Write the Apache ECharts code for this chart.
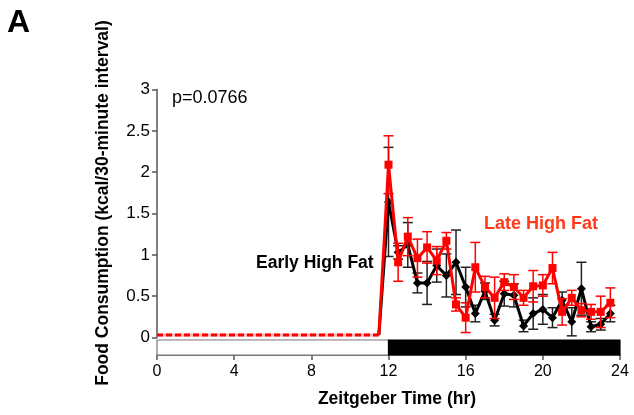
<!DOCTYPE html>
<html><head><meta charset="utf-8">
<script src="https://cdn.jsdelivr.net/npm/echarts@6/dist/echarts.min.js"></script>
<style>html,body{margin:0;padding:0;background:#fff}#c{width:634px;height:415px}</style>
</head><body><div id="c"></div>
<script>
// ---- data ----
const dayTimes = [0,0.5,1,1.5,2,2.5,3,3.5,4,4.5,5,5.5,6,6.5,7,7.5,8,8.5,9,9.5,10,10.5,11,11.5];
const dayValues = [0.03,0.03,0.03,0.03,0.03,0.03,0.03,0.03,0.03,0.03,0.03,0.03,0.03,0.03,0.03,0.03,0.03,0.03,0.03,0.03,0.03,0.03,0.03,0.03];
const nightTimes = [12,12.5,13,13.5,14,14.5,15,15.5,16,16.5,17,17.5,18,18.5,19,19.5,20,20.5,21,21.5,22,22.5,23,23.5];
const earlyMean = [1.64,1.03,1.12,0.66,0.66,0.87,0.75,0.91,0.61,0.29,0.56,0.21,0.53,0.51,0.14,0.29,0.34,0.24,0.45,0.19,0.59,0.13,0.16,0.29];
const earlySE   = [0.66,0.08,0.27,0.12,0.26,0.20,0.26,0.39,0.24,0.10,0.10,0.07,0.15,0.14,0.07,0.19,0.18,0.12,0.10,0.17,0.32,0.06,0.07,0.10];
const lateMean  = [2.09,0.91,1.22,0.96,1.09,0.93,1.17,0.40,0.24,0.85,0.61,0.48,0.67,0.61,0.48,0.62,0.63,0.84,0.31,0.48,0.33,0.31,0.31,0.42];
const lateSE    = [0.35,0.23,0.23,0.23,0.19,0.17,0.10,0.08,0.18,0.30,0.13,0.25,0.10,0.15,0.09,0.19,0.13,0.19,0.16,0.09,0.08,0.09,0.19,0.18];
const phases = [[0,12,'light'],[12,24,'dark']];
const xTicks = [0,4,8,12,16,20,24];
const yTicks = [0,0.5,1,1.5,2,2.5,3];

// ---- build ----
const FONT = 'Liberation Sans, Arial, sans-serif';
const lastDay = [dayTimes[dayTimes.length-1], dayValues[dayValues.length-1]];
function lineData(means){
  const d = [{value:lastDay, symbol:'none'}];
  nightTimes.forEach((t,i)=>d.push([t, means[i]]));
  return d;
}
function errData(means, se){
  return nightTimes.map((t,i)=>[t, means[i]-se[i], means[i]+se[i]]);
}
function errRender(color){
  return function(params, api){
    const x = api.value(0);
    const p1 = api.coord([x, api.value(1)]);
    const p2 = api.coord([x, api.value(2)]);
    const w = 5;
    const st = {stroke: color, lineWidth: 1.5};
    return {type:'group', children:[
      {type:'line', shape:{x1:p1[0],y1:p1[1],x2:p2[0],y2:p2[1]}, style:st},
      {type:'line', shape:{x1:p1[0]-w,y1:p1[1],x2:p1[0]+w,y2:p1[1]}, style:st},
      {type:'line', shape:{x1:p2[0]-w,y1:p2[1],x2:p2[0]+w,y2:p2[1]}, style:st}
    ]};
  };
}
const chart = echarts.init(document.getElementById('c'), null, {renderer:'canvas'});
const axisGrey = '#555';
chart.setOption({
  animation:false,
  textStyle:{fontFamily:FONT},
  grid:[
    {left:157, right:14, top:89.5, bottom:77.5},
    {left:157, right:14, top:340, bottom:60}
  ],
  xAxis:[
    {gridIndex:0, type:'value', min:0, max:24, show:false},
    {gridIndex:1, type:'value', min:0, max:24, interval:4,
     axisLine:{show:true, lineStyle:{color:axisGrey, width:1.5}},
     axisTick:{show:true, length:5, lineStyle:{color:axisGrey, width:1.5}},
     axisLabel:{color:'#000', fontSize:16, margin:9, fontFamily:FONT,
       formatter:v=>xTicks.includes(v)?String(v):''},
     splitLine:{show:false}}
  ],
  yAxis:[
    {gridIndex:0, type:'value', min:0, max:3, interval:0.5,
     axisLine:{show:true, lineStyle:{color:axisGrey, width:1.5}},
     axisTick:{show:true, length:5, lineStyle:{color:axisGrey, width:1.5}},
     axisLabel:{color:'#000', fontSize:17, margin:7, fontFamily:FONT,
       formatter:v=>yTicks.includes(v)?String(v):''},
     splitLine:{show:false}},
    {gridIndex:1, type:'value', min:0, max:1, show:false}
  ],
  series:[
    {type:'custom', xAxisIndex:1, yAxisIndex:1, data:phases, z:1,
     renderItem:function(params, api){
       const a = api.coord([api.value(0), 1]);
       const b = api.coord([api.value(1), 0]);
       const dark = params.dataIndex === 1;
       return {type:'rect', shape:{x:a[0], y:a[1], width:b[0]-a[0], height:b[1]-a[1]},
         style:{fill: dark ? '#000' : '#fff', stroke: dark ? '#000' : '#777', lineWidth:1.2}};
     }},
    {type:'line', name:'dayPink', data:dayTimes.map((t,i)=>[t,dayValues[i]]), symbol:'none',
     lineStyle:{color:'#ffb3b3', width:3}, z:3},
    {type:'line', name:'dayLate', data:dayTimes.map((t,i)=>[t,dayValues[i]]), symbol:'none',
     lineStyle:{color:'#ff0000', width:3, type:[6,3]}, z:4},
    {type:'custom', name:'earlyErr', data:errData(earlyMean, earlySE), renderItem:errRender('#222'), z:5},
    {type:'line', name:'Early High Fat', data:lineData(earlyMean), symbol:'diamond', symbolSize:9,
     itemStyle:{color:'#000'}, lineStyle:{color:'#000', width:3}, z:6},
    {type:'custom', name:'lateErr', data:errData(lateMean, lateSE), renderItem:errRender('#ff0000'), z:7},
    {type:'line', name:'Late High Fat', data:lineData(lateMean), symbol:'rect', symbolSize:8,
     itemStyle:{color:'#ff0000'}, lineStyle:{color:'#ff0000', width:3}, z:8}
  ],
  graphic:[
    {type:'text', left:7, top:7, style:{text:'A', font:'bold 32px '+FONT, fill:'#000'}},
    {type:'text', x:103, y:203, rotation:Math.PI/2,
     style:{text:'Food Consumption (kcal/30-minute interval)', font:'bold 17.5px '+FONT, fill:'#000', align:'center', verticalAlign:'middle'}},
    {type:'text', x:172, y:98, style:{text:'p=0.0766', font:'18px '+FONT, fill:'#000', verticalAlign:'middle'}},
    {type:'text', x:256, y:263, style:{text:'Early High Fat', font:'bold 17.5px '+FONT, fill:'#000', verticalAlign:'middle'}},
    {type:'text', x:484, y:224, style:{text:'Late High Fat', font:'bold 18px '+FONT, fill:'#ff3a1a', verticalAlign:'middle'}},
    {type:'text', x:397, y:399, style:{text:'Zeitgeber Time (hr)', font:'bold 17.5px '+FONT, fill:'#000', align:'center', verticalAlign:'middle'}}
  ]
});
</script></body></html>
